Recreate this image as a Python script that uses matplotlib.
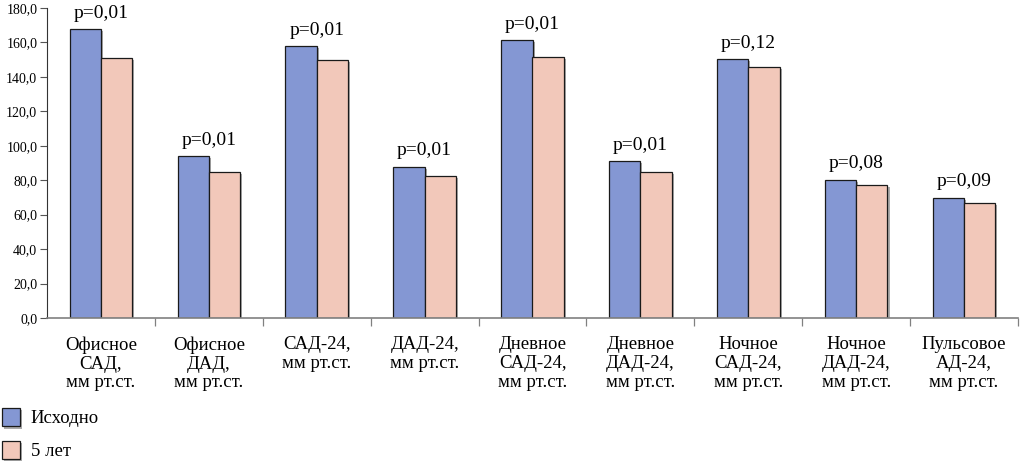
import numpy as np
import matplotlib
matplotlib.use("Agg")
import matplotlib.pyplot as plt
import matplotlib.patheffects as pe
from matplotlib.ticker import FuncFormatter, MultipleLocator, FixedLocator

# ---------------------------------------------------------------------------
# Data
# ---------------------------------------------------------------------------
categories = [
    "Офисное\nСАД,\nмм рт.ст.",
    "Офисное\nДАД,\nмм рт.ст.",
    "САД-24,\nмм рт.ст.",
    "ДАД-24,\nмм рт.ст.",
    "Дневное\nСАД-24,\nмм рт.ст.",
    "Дневное\nДАД-24,\nмм рт.ст.",
    "Ночное\nСАД-24,\nмм рт.ст.",
    "Ночное\nДАД-24,\nмм рт.ст.",
    "Пульсовое\nАД-24,\nмм рт.ст.",
]
baseline = [167.8, 93.9, 158.0, 87.9, 161.4, 91.2, 150.4, 80.3, 69.9]
five_years = [151.0, 84.6, 149.8, 82.6, 151.4, 85.0, 145.8, 77.0, 66.6]
p_values = ["p=0,01", "p=0,01", "p=0,01", "p=0,01", "p=0,01",
            "p=0,01", "p=0,12", "p=0,08", "p=0,09"]
series_names = ["Исходно", "5 лет"]

# ---------------------------------------------------------------------------
# Style
# ---------------------------------------------------------------------------
plt.rcParams["font.family"] = "serif"
plt.rcParams["font.serif"] = ["Liberation Serif"]
BLUE = "#8497d3"
PINK = "#f2c8ba"
EDGE = "#1a1a1a"
BAR_W = 0.29

fig = plt.figure(figsize=(10.33, 4.61), dpi=100)
ax = fig.add_axes([47 / 1033, 143 / 461, (1018 - 47) / 1033, (318 - 8) / 461])

x = np.arange(len(categories))
shadow = [pe.SimplePatchShadow(offset=(1.5, -1.5), shadow_rgbFace="#888888", alpha=0.7),
          pe.Normal()]
b1 = ax.bar(x - BAR_W / 2, baseline, BAR_W, color=BLUE, edgecolor=EDGE,
            linewidth=0.9, label=series_names[0], path_effects=shadow)
b2 = ax.bar(x + BAR_W / 2, five_years, BAR_W, color=PINK, edgecolor=EDGE,
            linewidth=0.9, label=series_names[1], path_effects=shadow)

# p-values above each pair
for xi, top, p in zip(x, np.maximum(baseline, five_years), p_values):
    ax.text(xi, top + 4.2, p, ha="center", va="bottom", fontsize=14)

ax.set_xlim(-0.5, len(categories) - 0.5)
ax.set_ylim(0, 180)
ax.yaxis.set_major_locator(MultipleLocator(20))
ax.yaxis.set_major_formatter(FuncFormatter(lambda v, _: f"{v:.1f}".replace(".", ",")))
ax.tick_params(axis="y", direction="out", length=5, width=0.8, color="#555555",
               labelsize=10, pad=2)

ax.set_xticks(x)
ax.set_xticklabels(categories, fontsize=13.5, linespacing=1.15)
ax.tick_params(axis="x", which="major", length=0, pad=13)
ax.xaxis.set_minor_locator(FixedLocator(np.arange(0.5, len(categories), 1.0)))
ax.tick_params(axis="x", which="minor", direction="out", length=6, width=0.9,
               color="#808080")

for side in ("top", "right"):
    ax.spines[side].set_visible(False)
ax.spines["left"].set_color("#333333")
ax.spines["bottom"].set_color("#808080")
ax.spines["bottom"].set_linewidth(1.2)

fig.legend(handles=[b1, b2], loc="lower left", bbox_to_anchor=(-0.014, -0.035),
           frameon=False, fontsize=13.5, handlelength=0.95, handleheight=1.15,
           handletextpad=0.55, labelspacing=0.7)

fig.savefig("out.png", dpi=100)
